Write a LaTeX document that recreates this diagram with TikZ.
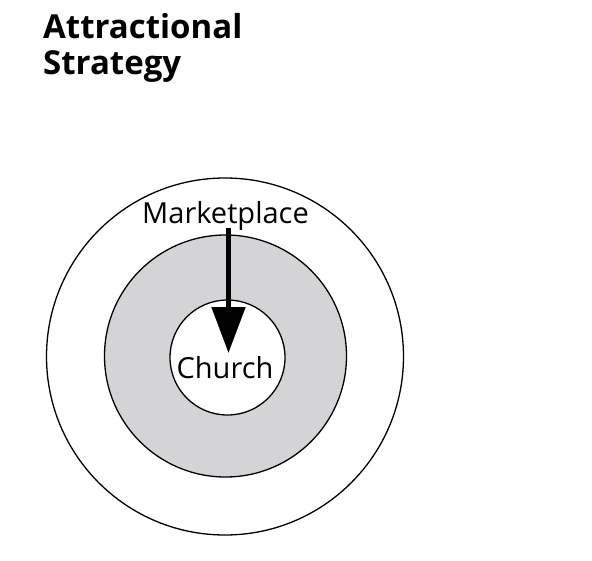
\documentclass[tikz,border=0pt]{standalone}
\usepackage{fontspec}
\setmainfont{Open Sans}
\usetikzlibrary{arrows.meta}
\definecolor{ringgray}{HTML}{D4D3D6}
\tikzset{
  ring/.style={draw=black, line width=1.3pt},
  lbl/.style={inner sep=0pt, font=\fontsize{29}{31}\selectfont},
  ttl/.style={inner sep=0pt, anchor=base west, font=\fontsize{33}{36}\selectfont\bfseries},
}
\begin{document}
\begin{tikzpicture}[x=1pt,y=-1pt]
\useasboundingbox (0,0) rectangle (592,560);
\fill[white] (0,0) rectangle (592,560);
\node[ttl] (t1) at (43,38) {Attractional};
\node[ttl] (t2) at (43,74) {Strategy};
\draw[ring, fill=white] (225,356.5) circle (178.5);
\draw[ring, fill=ringgray] (225.5,356) circle (121);
\draw[ring, fill=white] (227.5,357.5) circle (57.5);
\node[lbl, anchor=base] (mk) at (225.5,223) {Marketplace};
\node[lbl, anchor=base] (ch) at (225,378) {Church};
\coordinate (a0) at (228.5,228);
\coordinate (a1) at (228.5,353);
\draw[line width=5pt, -{Triangle[length=46pt,width=33pt]}] (a0) -- (a1);
\end{tikzpicture}
\end{document}
